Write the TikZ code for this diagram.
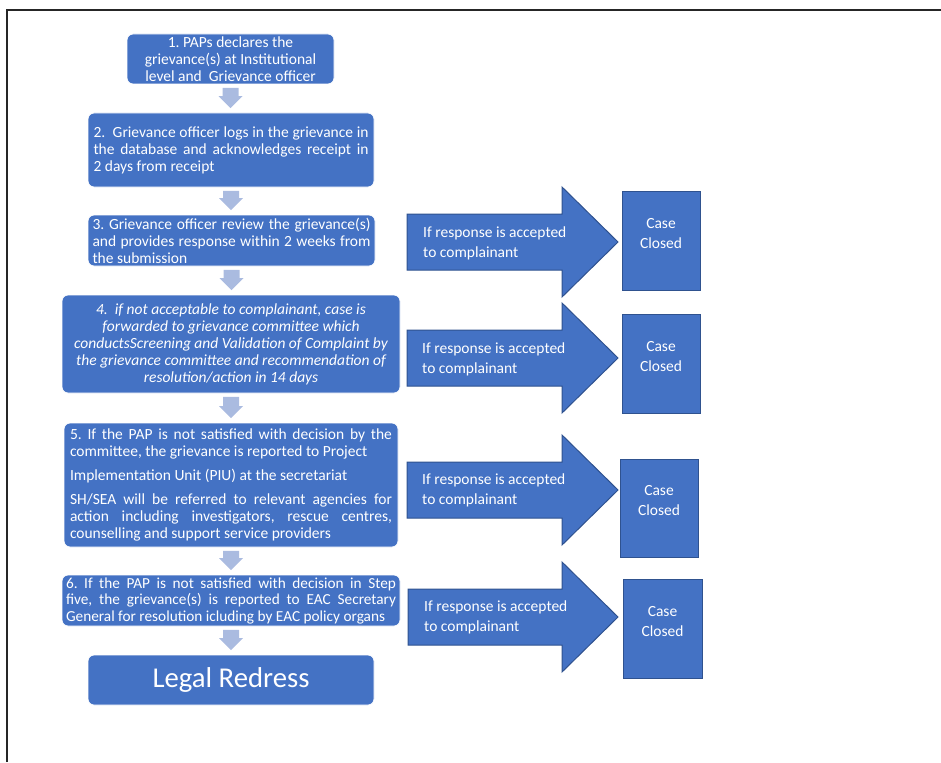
\documentclass[tikz,border=0pt]{standalone}
\usepackage{fontspec}
\setmainfont{Carlito}
\usetikzlibrary{calc}
\definecolor{boxblue}{HTML}{4472C4}
\definecolor{edgeblue}{HTML}{2F528F}
\definecolor{arrowc}{HTML}{AABBE0}
\frenchspacing
\newcommand\dnarr[2]{%
 \path[fill=arrowc] let \p1=($(#1.south)+(0,-3.5)$), \p2=($(#2.north)+(0,4.5)$) in
  (\x1-8pt,\y1) -- (\x1+8pt,\y1) -- (\x1+8pt,\y2+12pt) -- (\x1+12pt,\y2+12pt) -- (\x1,\y2)
  -- (\x1-12pt,\y2+12pt) -- (\x1-8pt,\y2+12pt) -- cycle;}
\newcommand\rarr[2]{%
 \draw[blockarrow] (#1,#2+28) -- (562,#2+28) -- (562,#2+55) -- (618,#2) -- (562,#2-55)
  -- (562,#2-28) -- (#1,#2-28) -- cycle;}
\begin{document}
\begin{tikzpicture}[x=1pt,y=1pt,
  stepbox/.style={rectangle, rounded corners=6pt, fill=boxblue, draw=white, line width=0.8pt,
    text=white, inner sep=0pt, font=\fontsize{15.5}{17}\selectfont},
  casebox/.style={rectangle, fill=boxblue, draw=edgeblue, line width=1pt, text=white,
    inner sep=0pt, font=\fontsize{15.5}{20}\selectfont},
  blockarrow/.style={fill=boxblue, draw=edgeblue, line width=1pt},
  arrowtext/.style={text=white, anchor=west, inner sep=0pt, align=left,
    font=\fontsize{15.5}{20}\selectfont}
]
\useasboundingbox (0,0) rectangle (941,-762);
\draw[line width=1.2pt, black!85] (7,-762) -- (7,-10) -- (941,-10);

\node[stepbox, minimum width=207pt, minimum height=50pt, align=center] (b1) at (230.5,-59)
 {1. PAPs declares the\\grievance(s) at Institutional\\level and\ \ Grievance officer};
\node[stepbox, minimum width=286pt, minimum height=74pt, text width=275pt, align=justify] (b2) at (231,-150)
 {2.\ \ Grievance officer logs in the grievance in\linebreak the database and acknowledges receipt in\linebreak 2 days from receipt};
\node[stepbox, minimum width=287pt, minimum height=51pt, text width=278pt, align=justify] (b3) at (231.5,-240.5)
 {3. Grievance officer review the grievance(s)\linebreak and provides response within 2 weeks from\linebreak the submission};
\node[stepbox, minimum width=338pt, minimum height=98pt, align=center, font=\fontsize{15.5}{17}\selectfont\itshape] (b4) at (231,-344)
 {4.\ \ if not acceptable to complainant, case is\\forwarded to grievance committee which\\conductsScreening and Validation of Complaint by\\the grievance committee and recommendation of\\resolution/action in 14 days};
\node[stepbox, minimum width=334pt, minimum height=124pt, text width=322pt, align=justify] (b5) at (231,-485)
 {\parskip=7pt 5. If the PAP is not satisfied with decision by the\linebreak committee, the grievance is reported to Project\par
  Implementation Unit (PIU) at the secretariat\par
  SH/SEA will be referred to relevant agencies for\linebreak action including investigators, rescue centres,\linebreak counselling and support service providers};
\node[stepbox, minimum width=338pt, minimum height=51pt, text width=330pt, align=justify, font=\fontsize{15.3}{16.5}\selectfont] (b6) at (231,-600.5)
 {6. If the PAP is not satisfied with decision in Step\linebreak five, the grievance(s) is reported to EAC Secretary\linebreak General for resolution icluding by EAC policy organs};
\node[stepbox, minimum width=286pt, minimum height=50pt, font=\fontsize{28.7}{32}\selectfont] (b7) at (231,-680)
 {Legal Redress};

\dnarr{b1}{b2}
\dnarr{b2}{b3}
\dnarr{b3}{b4}
\dnarr{b4}{b5}
\dnarr{b5}{b6}
\dnarr{b6}{b7}

\rarr{407}{-242}
\rarr{407}{-358}
\rarr{407}{-490}
\rarr{408}{-617}

\node[arrowtext] (t1) at (423,-243) {If response is accepted\\to complainant};
\node[arrowtext] (t2) at (422,-359) {If response is accepted\\to complainant};
\node[arrowtext] (t3) at (422,-490.5) {If response is accepted\\to complainant};
\node[arrowtext] (t4) at (424,-617) {If response is accepted\\to complainant};

\node[casebox, minimum width=78pt, minimum height=99pt] (c1) at (661,-240.5)
 {\parbox[c][99pt][c]{78pt}{\centering Case\\Closed\par\vspace*{14pt}}};
\node[casebox, minimum width=78pt, minimum height=99pt] (c2) at (661,-363.5)
 {\parbox[c][99pt][c]{78pt}{\centering Case\\Closed\par\vspace*{14pt}}};
\node[casebox, minimum width=78pt, minimum height=98pt] (c3) at (659,-508)
 {\parbox[c][98pt][c]{78pt}{\centering Case\\Closed\par\vspace*{14pt}}};
\node[casebox, minimum width=79pt, minimum height=99pt] (c4) at (662.5,-628.5)
 {\parbox[c][99pt][c]{79pt}{\centering Case\\Closed\par\vspace*{14pt}}};
\end{tikzpicture}
\end{document}
